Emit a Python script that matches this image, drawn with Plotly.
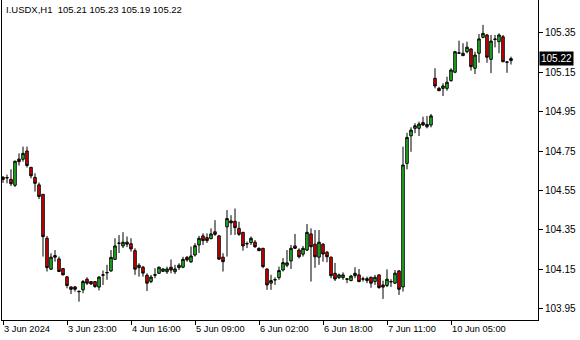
import plotly.graph_objects as go

opens = [104.617,104.614,104.607,104.577,104.710,104.709,104.751,104.668,104.617,104.579,
         104.531,104.308,104.151,104.220,104.203,104.154,104.112,104.061,104.061,104.039,
         104.046,104.100,104.088,104.088,104.060,104.120,104.132,104.142,104.201,104.282,
         104.269,104.278,104.280,104.245,104.159,104.161,104.120,104.088,104.120,104.130,
         104.140,104.138,104.161,104.138,104.159,104.161,104.211,104.188,104.223,104.274,
         104.320,104.311,104.306,104.341,104.320,104.212,104.366,104.396,104.394,104.358,
         104.338,104.279,104.286,104.288,104.257,104.257,104.152,104.080,104.096,104.108,
         104.147,104.171,104.193,104.269,104.248,104.227,104.248,104.330,104.278,104.212,
         104.278,104.237,104.212,104.130,104.108,104.108,104.102,104.093,104.118,104.122,
         104.100,104.093,104.110,104.088,104.122,104.071,104.068,104.086,104.080,104.142,
         104.061,104.688,104.828,104.866,104.866,104.895,104.874,104.883,105.120,105.069,
         105.069,105.069,105.108,105.151,105.247,105.235,105.255,105.269,105.171,105.247,
         105.328,105.340,105.216,105.317,105.306,105.331,105.201,105.21]
highs = [104.624,104.631,104.658,104.702,104.739,104.773,104.773,104.670,104.638,104.591,
         104.532,104.320,104.232,104.248,104.215,104.157,104.116,104.063,104.066,104.042,
         104.096,104.110,104.091,104.091,104.115,104.144,104.173,104.248,104.308,104.324,
         104.339,104.317,104.308,104.257,104.181,104.168,104.130,104.122,104.156,104.164,
         104.156,104.164,104.200,104.173,104.181,104.214,104.218,104.266,104.283,104.320,
         104.333,104.333,104.358,104.400,104.325,104.232,104.451,104.425,104.459,104.392,
         104.340,104.291,104.317,104.299,104.261,104.259,104.154,104.122,104.110,104.164,
         104.207,104.248,104.274,104.330,104.257,104.269,104.380,104.358,104.350,104.350,
         104.283,104.243,104.215,104.183,104.129,104.135,104.105,104.122,104.161,104.152,
         104.113,104.113,104.113,104.122,104.124,104.093,104.150,104.100,104.147,104.147,
         104.773,104.843,104.871,104.892,104.900,104.925,104.929,104.939,105.171,105.077,
         105.095,105.128,105.171,105.259,105.311,105.298,105.306,105.272,105.255,105.345,
         105.391,105.345,105.340,105.340,105.348,105.340,105.204,105.23]
lows = [104.589,104.587,104.573,104.568,104.677,104.697,104.667,104.612,104.545,104.507,
        104.215,104.139,104.147,104.189,104.137,104.120,104.054,104.025,104.037,103.986,
        104.029,104.071,104.071,104.056,104.043,104.071,104.097,104.138,104.198,104.233,
        104.258,104.263,104.240,104.122,104.113,104.113,104.040,104.080,104.105,104.127,
        104.138,104.127,104.130,104.127,104.147,104.156,104.189,104.183,104.215,104.233,
        104.274,104.284,104.303,104.320,104.198,104.139,104.215,104.325,104.325,104.320,
        104.245,104.258,104.274,104.259,104.243,104.156,104.046,104.046,104.071,104.097,
        104.139,104.161,104.152,104.254,104.206,104.215,104.243,104.088,104.158,104.173,
        104.189,104.186,104.105,104.091,104.101,104.097,104.080,104.090,104.105,104.085,
        104.088,104.080,104.057,104.071,104.051,104.000,104.060,104.061,104.076,104.020,
        104.037,104.658,104.747,104.841,104.827,104.878,104.866,104.871,105.069,105.056,
        105.030,105.057,105.103,105.146,105.244,105.233,105.247,105.159,105.142,105.199,
        105.323,105.199,105.146,105.277,105.247,105.204,105.148,105.19]
closes = [104.607,104.616,104.585,104.699,104.697,104.739,104.677,104.625,104.587,104.520,
          104.316,104.159,104.212,104.212,104.139,104.122,104.068,104.049,104.049,104.037,
          104.088,104.080,104.076,104.063,104.111,104.122,104.134,104.211,104.269,104.283,
          104.288,104.288,104.254,104.151,104.171,104.131,104.080,104.111,104.123,104.161,
          104.152,104.152,104.147,104.152,104.171,104.201,104.198,104.218,104.270,104.308,
          104.296,104.296,104.330,104.328,104.202,104.189,104.408,104.386,104.362,104.328,
          104.269,104.281,104.308,104.265,104.245,104.164,104.071,104.093,104.098,104.144,
          104.184,104.183,104.257,104.257,104.214,104.257,104.338,104.265,104.214,104.288,
          104.228,104.214,104.118,104.101,104.122,104.122,104.100,104.116,104.130,104.088,
          104.102,104.103,104.080,104.110,104.058,104.060,104.100,104.088,104.131,104.049,
          104.680,104.820,104.857,104.879,104.888,104.883,104.886,104.929,105.081,105.057,
          105.081,105.100,105.162,105.255,105.249,105.247,105.278,105.179,105.238,105.320,
          105.348,105.227,105.309,105.319,105.340,105.204,105.203,105.22]

tick_bars = [0, 16, 32, 48, 64, 80, 96, 112]
tick_labels = ["3 Jun 2024", "3 Jun 23:00", "4 Jun 16:00", "5 Jun 09:00",
               "6 Jun 02:00", "6 Jun 18:00", "7 Jun 11:00", "10 Jun 05:00"]
price_ticks = [103.95, 104.15, 104.35, 104.55, 104.75, 104.95, 105.15, 105.35]
symbol = "I.USDX,H1"
last_price = 105.22

x = list(range(len(opens)))

fig = go.Figure(go.Candlestick(
    x=x, open=opens, high=highs, low=lows, close=closes,
    increasing=dict(fillcolor="#22c822", line=dict(color="black", width=1)),
    decreasing=dict(fillcolor="#ee0000", line=dict(color="black", width=1)),
    whiskerwidth=0, hoverinfo="skip",
))

font = "Liberation Sans"
fig.update_layout(
    width=580, height=340,
    margin=dict(l=2, r=42, t=0, b=20),
    paper_bgcolor="white", plot_bgcolor="white",
    showlegend=False,
    boxgap=0.1,
    font=dict(family=font, size=10, color="black"),
    xaxis=dict(
        range=[-0.25, 133.75], rangeslider=dict(visible=False),
        showgrid=False, zeroline=False,
        showline=True, linecolor="black", linewidth=1,
        tickmode="array", tickvals=tick_bars, ticktext=tick_labels,
        ticks="outside", ticklen=4, tickcolor="black",
        ticklabelposition="outside right",
        tickfont=dict(family=font, size=9.3, color="black"),
    ),
    yaxis=dict(
        side="right", range=[103.893, 105.5175],
        showgrid=False, zeroline=False,
        showline=True, linecolor="black", linewidth=1, mirror=True,
        tickmode="array", tickvals=price_ticks,
        ticktext=[f"{v:.2f}" for v in price_ticks],
        ticks="outside", ticklen=4, tickcolor="black",
        tickfont=dict(family=font, size=10, color="black"),
    ),
)

fig.add_annotation(
    xref="paper", yref="paper", x=0.003, y=0.995, xanchor="left", yanchor="top",
    text=f"{symbol}  {opens[-1]:.2f} {highs[-1]:.2f} {lows[-1]:.2f} {closes[-1]:.2f}",
    showarrow=False, font=dict(family=font, size=9.5, color="black"),
)
fig.add_annotation(
    xref="paper", yref="y", x=1, y=last_price, xanchor="left", yanchor="middle",
    xshift=1, text=f"{last_price:.2f}", showarrow=False,
    bgcolor="black", borderpad=1, font=dict(family=font, size=10, color="white"),
)

fig.write_html("out.html")
